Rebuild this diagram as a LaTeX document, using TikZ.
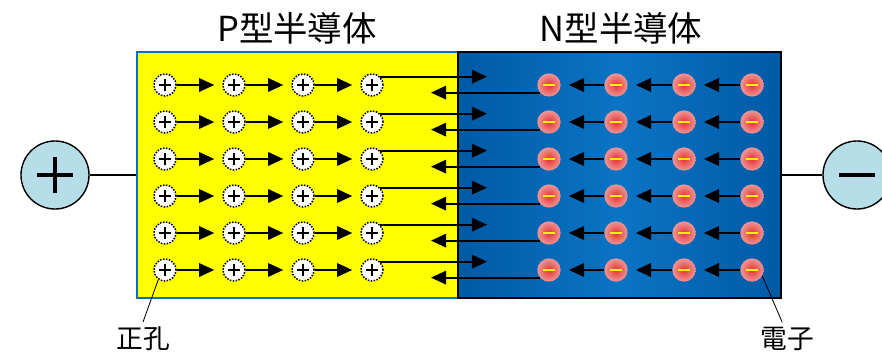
\documentclass[tikz,border=0pt]{standalone}
\usepackage{fontspec}
\newfontfamily\jpfont{Noto Sans CJK JP}
\usepackage{tikz}
\usetikzlibrary{arrows.meta}

\definecolor{pfill}{RGB}{255,255,0}
\definecolor{pline}{RGB}{0,112,192}
\definecolor{nmid}{RGB}{10,116,196}
\definecolor{nedge}{RGB}{0,90,166}
\definecolor{term}{RGB}{183,222,232}
\definecolor{ecore}{RGB}{230,50,50}
\definecolor{erim}{RGB}{240,150,150}

\tikzstyle{hole} = [circle, draw, densely dotted, line width=1.1pt, fill=white, minimum size=0.55cm, inner sep=0pt,
  path picture={\draw[solid,line width=1.6pt] ([xshift=-0.15cm]path picture bounding box.center) -- ([xshift=0.15cm]path picture bounding box.center);
                \draw[solid,line width=1.6pt] ([yshift=-0.15cm]path picture bounding box.center) -- ([yshift=0.15cm]path picture bounding box.center);}]
\tikzstyle{electron} = [circle, minimum size=0.58cm, inner sep=0pt, shading=radial, inner color=ecore, outer color=erim,
  path picture={\draw[yellow,line width=1.2pt] ([xshift=-0.15cm]path picture bounding box.center) -- ([xshift=0.15cm]path picture bounding box.center);}]
\tikzstyle{flow} = [-{Triangle[length=0.38cm,width=0.34cm]}, line width=1.3pt, shorten >=0.2cm]
\tikzstyle{longflow} = [-{Triangle[length=0.38cm,width=0.34cm]}, line width=1.3pt]
\tikzstyle{terminal} = [circle, draw, line width=1pt, fill=term, minimum size=1.7cm, inner sep=0pt]
\tikzstyle{title} = [font=\jpfont\fontsize{24.5}{28}\selectfont]
\tikzstyle{tag} = [font=\jpfont\fontsize{19}{22}\selectfont]

\begin{document}
\begin{tikzpicture}[x=0.025cm,y=-0.025cm]
	\useasboundingbox (0,0) rectangle (882,353);
	\fill[white] (0,0) rectangle (882,353);
	% the two halves of the junction
	\node[draw=pline, line width=1.6pt, fill=pfill, minimum width=8.025cm, minimum height=6.15cm, inner sep=0pt] (p) at (297.5,175) {};
	\node[draw=black, line width=1.8pt, left color=nedge, right color=nedge, middle color=nmid, minimum width=8.075cm, minimum height=6.15cm, inner sep=0pt] (n) at (619.5,175) {};
	\node[title] (ptitle) at (297,28) {P型半導体};
	\node[title] (ntitle) at (621,28) {N型半導体};
	% holes and electrons
	\foreach \r in {1,...,6} {
		\foreach \c/\x in {1/165,2/234,3/303,4/372}
			\node[hole] (h\c-\r) at (\x,{85+37*(\r-1)}) {};
		\foreach \c/\x in {1/549,2/616,3/684,4/752}
			\node[electron] (e\c-\r) at (\x,{85+37*(\r-1)}) {};
		\foreach \c [count=\n from 2] in {1,2,3} {
			\draw[flow] (h\c-\r) -- (h\n-\r);
			\draw[flow] (e\n-\r) -- (e\c-\r);
		}
		\coordinate (rtip\r) at (487,0);
		\coordinate (ltip\r) at (431,0);
		\draw[longflow] (h4-\r.45) -- (h4-\r.45 -| rtip\r);
		\draw[longflow] (e1-\r.220) -- (e1-\r.220 -| ltip\r);
	}
	% terminals
	\node[terminal] (pos) at (55,175) {};
	\node[terminal] (neg) at (857,175) {};
	\draw[line width=2.8pt] ([xshift=-0.44cm]pos.center) -- ([xshift=0.44cm]pos.center);
	\draw[line width=2.8pt] ([yshift=-0.44cm]pos.center) -- ([yshift=0.44cm]pos.center);
	\draw[line width=2.8pt] ([xshift=-0.44cm]neg.center) -- ([xshift=0.44cm]neg.center);
	\draw[line width=0.8pt] (pos) -- (pos -| p.west);
	\draw[line width=0.8pt] (neg) -- (neg -| n.east);
	% labels
	\node[tag] (holetag) at (143,339) {正孔};
	\node[tag] (eltag) at (787,339) {電子};
	\draw[line width=0.6pt] (holetag.north) -- (h1-6.235);
	\draw[line width=0.6pt] ([xshift=-0.12cm]eltag.north) -- (e4-6.330);
\end{tikzpicture}
\end{document}
